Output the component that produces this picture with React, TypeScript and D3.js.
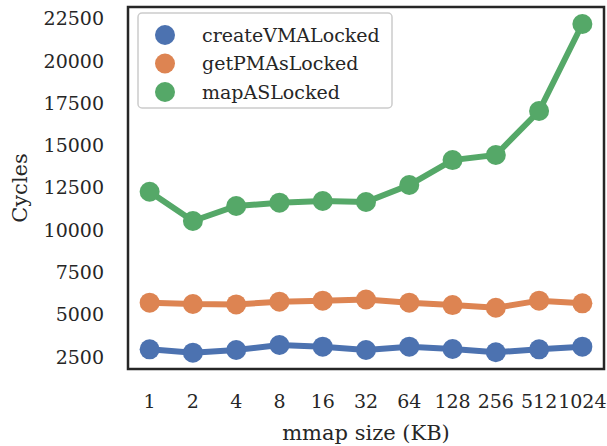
import React from "react";
import * as d3 from "d3";

const categories = ["1", "2", "4", "8", "16", "32", "64", "128", "256", "512", "1024"];
const createVMALocked = [2955, 2755, 2915, 3210, 3110, 2915, 3110, 2970, 2780, 2955, 3110];
const getPMAsLocked = [5710, 5630, 5610, 5770, 5830, 5900, 5710, 5570, 5410, 5830, 5670];
const mapASLocked = [12270, 10540, 11424, 11620, 11720, 11660, 12665, 14140, 14440, 17040, 22180];
const yTicks = [2500, 5000, 7500, 10000, 12500, 15000, 17500, 20000, 22500];
const seriesNames = ["createVMALocked", "getPMAsLocked", "mapASLocked"];
const colors = ["#4c72b0", "#dd8452", "#55a868"];

const W = 607;
const H = 446;
const L = 128, R = 604, T = 7, B = 369;
const FONT = "'DejaVu Serif', 'Liberation Serif', serif";
const TXT = "#262626";

export default function App() {
  const series = [createVMALocked, getPMAsLocked, mapASLocked];
  const x = d3.scalePoint<string>().domain(categories).range([L, R]).padding(0.5);
  const y = d3.scaleLinear().domain([1791, 23186]).range([B, T]);
  const line = d3.line<number>().x((_, i) => x(categories[i]) as number).y((v) => y(v));

  return (
    <svg width={W} height={H} style={{ position: "absolute", left: 0, top: 0 }} fontFamily={FONT}>
      <rect x={0} y={0} width={W} height={H} fill="#fff" />
      {yTicks.map((t) => (
        <text key={t} x={104} y={y(t)} dy="0.35em" textAnchor="end" fontSize={19} fill={TXT}>
          {t}
        </text>
      ))}
      {categories.map((c) => (
        <text key={c} x={x(c)} y={401} dy="0.35em" textAnchor="middle" fontSize={19} fill={TXT}>
          {c}
        </text>
      ))}
      <text x={(L + R) / 2} y={433} dy="0.35em" textAnchor="middle" fontSize={21} fill={TXT}>
        mmap size (KB)
      </text>
      <text transform={`translate(20,${(T + B) / 2}) rotate(-90)`} dy="0.35em" textAnchor="middle" fontSize={21} fill={TXT}>
        Cycles
      </text>
      {series.map((s, si) => (
        <g key={si}>
          <path d={line(s) as string} fill="none" stroke={colors[si]} strokeWidth={6} />
          {s.map((v, i) => (
            <circle key={i} cx={x(categories[i])} cy={y(v)} r={10} fill={colors[si]} />
          ))}
        </g>
      ))}
      <rect x={138} y={13} width={254} height={95} rx={4} fill="#fff" fillOpacity={0.8} stroke="#cccccc" strokeWidth={1.5} />
      {seriesNames.map((n, i) => (
        <g key={n}>
          <circle cx={165} cy={35 + i * 28.5} r={10} fill={colors[i]} />
          <text x={202} y={35 + i * 28.5} dy="0.35em" fontSize={19} fill={TXT}>
            {n}
          </text>
        </g>
      ))}
      <rect x={L} y={T} width={R - L} height={B - T} fill="none" stroke="#262626" strokeWidth={2.5} />
    </svg>
  );
}
